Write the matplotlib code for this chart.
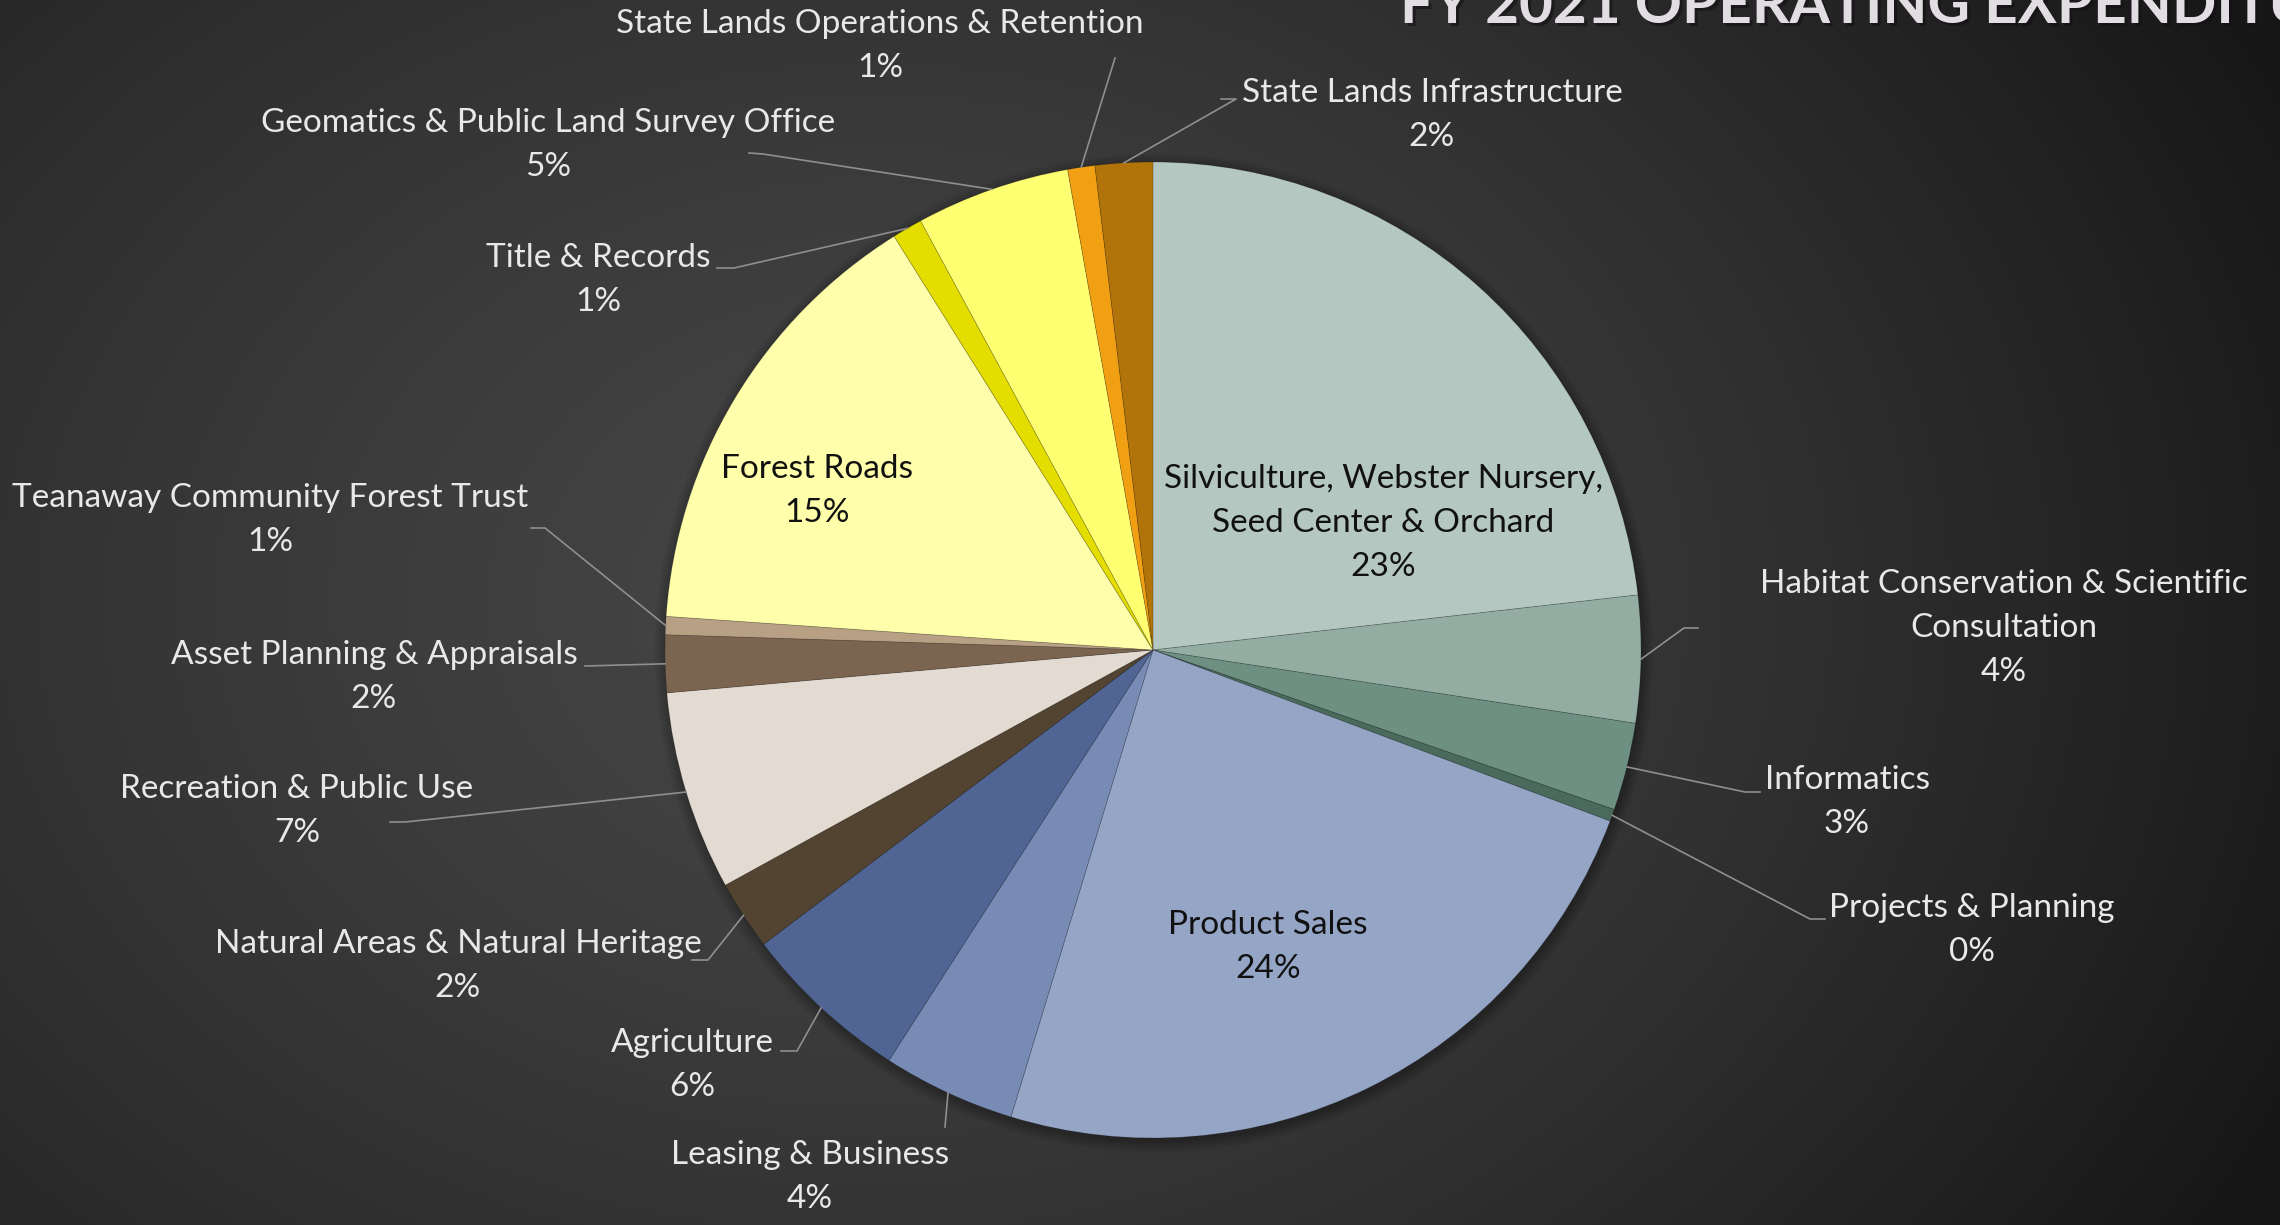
import numpy as np
import matplotlib.pyplot as plt

W, H = 2280, 1225

# slices, clockwise from 12 o'clock
categories = ["Silviculture, Webster Nursery,\nSeed Center & Orchard",
              "Habitat Conservation & Scientific\nConsultation",
              "Informatics", "Projects & Planning", "Product Sales",
              "Leasing & Business", "Agriculture",
              "Natural Areas & Natural Heritage", "Recreation & Public Use",
              "Asset Planning & Appraisals", "Teanaway Community Forest Trust",
              "Forest Roads", "Title & Records",
              "Geomatics & Public Land Survey Office",
              "State Lands Operations & Retention",
              "State Lands Infrastructure"]
shares = [23.2, 4.2, 2.9, 0.4, 24.0, 4.4, 5.6, 2.3, 6.6, 1.9, 0.6, 15.0,
          1.0, 5.1, 0.9, 1.9]
colors = ["#b4c7c1", "#93ada3", "#6d9083", "#4a6a5c", "#95a5c6", "#788bb5",
          "#506593", "#524431", "#e3dbd1", "#7b6550", "#b8a084", "#ffffab",
          "#e4dd00", "#ffff72", "#f0a012", "#b1740b"]
inside = [0, 4, 11]

# label centres in picture pixels (x, y from top)
label_xy = [(1383, 523), (2004, 628), (1847, 802), (1972, 930), (1268, 947),
            (810, 1177), (692, 1065), (458, 966), (297, 811), (374, 677),
            (270, 520), (817, 491), (598, 280), (548, 145), (880, 46),
            (1432, 115)]
# leader line bends, from the slice outwards
leaders = {1: [(1684, 628), (1698, 628)], 2: [(1745, 792), (1760, 792)],
           3: [(1810, 919), (1825, 919)], 5: [(945, 1127)],
           6: [(797, 1051), (781, 1051)], 7: [(708, 960), (692, 960)],
           8: [(405, 822), (390, 822)], 9: [(585, 666)],
           10: [(545, 528), (531, 528)], 12: [(734, 268), (717, 268)],
           13: [(763, 154), (749, 153)], 14: [(1115, 58)],
           15: [(1236, 99), (1221, 99)]}

cx, cy, R = 1153, 650, 488

fig = plt.figure(figsize=(W / 100, H / 100), dpi=100)

# background gradient
bg = fig.add_axes([0, 0, 1, 1])
yy, xx = np.mgrid[0:H, 0:W]
d = np.hypot((xx - 950) / 1.0, (yy - 600) * 1.3) / 1500
g = 0.29 - 0.17 * np.clip(d, 0, 1) ** 1.3 - 0.03 * (xx / W)
bg.imshow(np.dstack([g, g, g]), extent=[0, W, 0, H], origin="upper", aspect="auto")
bg.axis("off")

ax = fig.add_axes([0, 0, 1, 1])
ax.patch.set_alpha(0)

# soft shadow round the pie
for k in range(8):
    ax.add_patch(plt.Circle((cx + 1, H - cy - 3), R + 1 + k * 1.5, color="black",
                            alpha=0.03, lw=0, zorder=1))

wedges, _ = ax.pie(shares, colors=colors, startangle=90, counterclock=False,
                   center=(cx, H - cy), radius=R,
                   wedgeprops=dict(edgecolor=(0, 0, 0, 0.18), linewidth=0.6))
for w in wedges:
    w.set_zorder(2)

font = "Lato"
for i, (name, v) in enumerate(zip(categories, shares)):
    x, y = label_xy[i]
    txt = f"{name}\n{round(v):.0f}%"
    col = "#111111" if i in inside else "#e8e8e8"
    ax.text(x, H - y, txt, ha="center", va="center", fontsize=24,
            family=font, color=col, linespacing=1.6, zorder=4)
    if i in leaders:
        w = wedges[i]
        mid = np.deg2rad((w.theta1 + w.theta2) / 2)
        pts = [(cx + R * np.cos(mid), H - cy + R * np.sin(mid))]
        pts += [(px, H - py) for px, py in leaders[i]]
        ax.plot([p[0] for p in pts], [p[1] for p in pts], color="#8f8f8f",
                lw=1.2, zorder=3)

# title, cut off at the top right as in the slide
title = "FY 2021 OPERATING EXPENDITURES"
ax.text(1403, H - 23 - 3, title, ha="left", va="baseline", fontsize=42,
        fontweight="bold", family=font, color="#111111", alpha=0.6, zorder=4)
ax.text(1400, H - 23, title, ha="left", va="baseline", fontsize=42,
        fontweight="bold", family=font, color="#e2dde2", zorder=5)

ax.set_xlim(0, W)
ax.set_ylim(0, H)
ax.set_aspect("auto")
ax.axis("off")

fig.savefig("out.png", dpi=100)
